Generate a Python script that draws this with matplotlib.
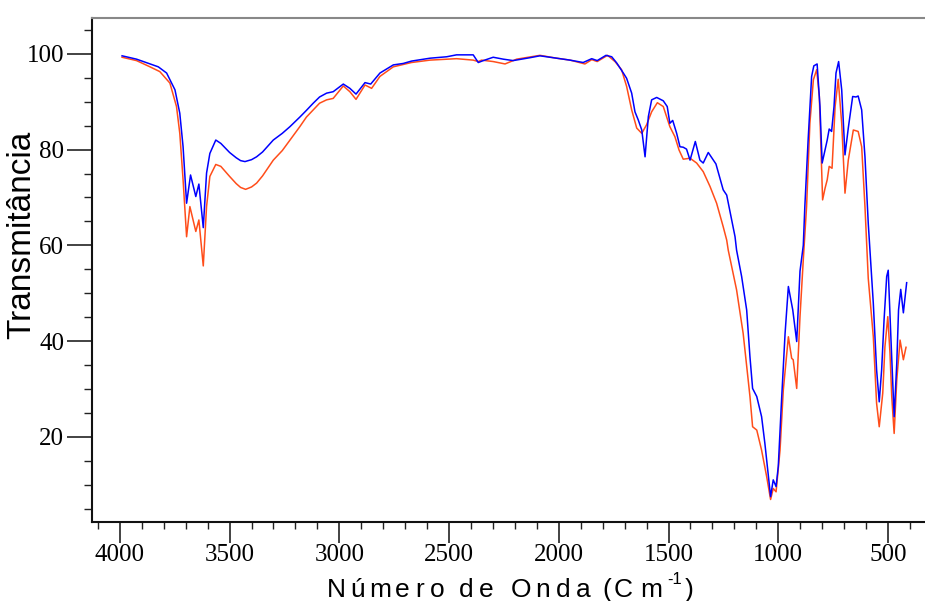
import numpy as np
import matplotlib
matplotlib.use("Agg")
import matplotlib.pyplot as plt
from matplotlib.ticker import MultipleLocator

# ---- data (wavenumber cm^-1, transmittance %) ----
blue_wn = [3990, 3924, 3863, 3825, 3787, 3749, 3727, 3712, 3696, 3678, 3654, 3640, 3620, 3605,
           3590, 3563, 3540, 3500, 3470, 3450, 3430, 3400, 3377, 3350, 3301, 3260, 3225, 3180,
           3150, 3119, 3090, 3058, 3028, 2982, 2952, 2924, 2883,
           2857, 2815, 2754, 2709, 2671, 2587, 2511, 2466, 2390, 2367, 2344, 2299, 2253, 2208,
           2132, 2086, 2010, 1949, 1889, 1850, 1825, 1785, 1759, 1736, 1706, 1691, 1668, 1653,
           1638, 1622, 1607, 1592, 1577, 1554, 1524, 1506, 1494, 1481, 1463, 1448, 1433, 1418,
           1402, 1378, 1357, 1342, 1319, 1284, 1251, 1235, 1197, 1190, 1167, 1144, 1129, 1117,
           1098, 1076, 1061, 1045, 1035, 1023, 1010, 1000, 985, 969, 954, 934, 916, 901, 886,
           879, 864, 848, 838, 823, 810, 800, 787, 777, 768, 757, 746, 737, 725, 711, 696, 681,
           661, 646, 636, 620, 605, 590, 574, 567, 552, 540, 529, 518, 506, 499, 487, 472, 460,
           452, 442, 430, 415]
blue_t = [99.6, 98.9, 97.9, 97.3, 96.0, 92.5, 87.6, 80.6, 68.8, 74.7, 70.2, 72.8, 63.7, 75.1,
          79.2, 82.0, 81.3, 79.4, 78.3, 77.7, 77.5, 77.9, 78.5, 79.5, 82.0, 83.4, 84.8, 86.8,
          88.2, 89.7, 91.0, 91.8, 92.1, 93.7, 92.8, 91.6, 94.0,
          93.7, 96.0, 97.7, 98.0, 98.5, 99.1, 99.4, 99.8, 99.8, 98.2, 98.6, 99.3, 98.9, 98.6,
          99.2, 99.6, 99.1, 98.7, 98.2, 99.0, 98.6, 99.7, 99.4, 98.1, 96.0, 94.9, 91.8, 87.9,
          86.2, 84.1, 78.5, 86.9, 90.4, 90.9, 90.2, 89.0, 85.5, 86.1, 83.4, 80.6, 80.5, 80.1,
          77.8, 81.7, 77.8, 77.2, 79.4, 77.0, 71.6, 70.5, 61.8, 59.0, 53.5, 46.5, 36.7, 30.1,
          28.4, 24.2, 18.6, 11.7, 7.5, 11.0, 9.6, 13.8, 27.7, 41.6, 51.4, 46.5, 39.9, 54.6, 60.0,
          68.1, 82.0, 95.3, 97.5, 97.9, 89.0, 77.2, 79.9, 82.0, 84.3, 83.8, 89.0, 96.0, 98.4,
          92.5, 78.9, 84.5, 91.1, 91.0, 91.2, 88.3, 78.5, 64.6, 52.8, 47.9, 34.0, 27.3, 34.0,
          44.4, 53.5, 54.8, 40.9, 24.2, 35.4, 46.5, 50.8, 45.9, 52.2]

orange_wn = [3990, 3924, 3863, 3818, 3772, 3742, 3727, 3712, 3696, 3681, 3654, 3640, 3620, 3605,
             3590, 3563, 3540, 3500, 3470, 3450, 3427, 3400, 3377, 3350, 3301, 3260, 3225, 3180,
             3150, 3119, 3090, 3058, 3028, 2982, 2952, 2924, 2883,
             2853, 2815, 2754, 2671, 2587, 2511, 2466, 2390, 2367, 2352, 2299, 2245, 2192, 2086,
             2010, 1949, 1881, 1850, 1825, 1778, 1744, 1714, 1691, 1668, 1645, 1622, 1600, 1577,
             1551, 1524, 1494, 1471, 1452, 1433, 1402, 1372, 1342, 1311, 1281, 1251, 1235, 1228,
             1190, 1160, 1129, 1117, 1098, 1076, 1053, 1035, 1023, 1010, 992, 977, 954, 939, 932,
             916, 901, 886, 871, 856, 840, 825, 813, 804, 798, 787, 777, 768, 755, 741, 727, 711,
             696, 681, 658, 636, 620, 605, 590, 567, 552, 540, 524, 514, 501, 491, 483, 472, 460,
             445, 430, 418]
orange_t = [99.3, 98.6, 97.3, 96.3, 93.9, 89.0, 83.4, 73.7, 61.8, 68.1, 62.9, 65.3, 55.7, 68.1,
            74.4, 76.9, 76.5, 74.4, 72.9, 72.1, 71.7, 72.2, 73.0, 74.5, 77.8, 79.8, 82.0, 84.8,
            86.8, 88.3, 89.7, 90.4, 90.7, 93.3, 92.1, 90.5, 93.5,
            92.8, 95.3, 97.3, 98.2, 98.7, 98.9, 99.0, 98.7, 98.4, 98.7, 98.4, 97.9, 98.9, 99.7,
            99.1, 98.7, 97.9, 98.8, 98.4, 99.7, 98.4, 96.7, 93.2, 88.3, 84.5, 83.4, 85.2, 87.9,
            89.8, 89.0, 84.8, 82.7, 79.9, 78.0, 78.2, 77.2, 75.4, 72.3, 68.8, 63.9, 61.1, 59.0,
            50.7, 41.6, 28.4, 22.1, 21.4, 17.2, 11.7, 6.9, 9.2, 8.5, 17.2, 29.8, 40.9, 36.4, 36.1,
            30.1, 45.1, 57.0, 68.1, 85.5, 94.6, 96.7, 91.1, 78.5, 69.5, 71.9, 73.7, 76.5, 76.1,
            89.0, 94.7, 85.5, 70.9, 77.8, 84.1, 83.8, 80.6, 68.1, 53.1, 40.9, 27.0, 22.1, 29.1,
            38.8, 45.1, 37.5, 28.4, 20.7, 31.9, 40.2, 36.1, 38.7]

x_ticks = [4000, 3500, 3000, 2500, 2000, 1500, 1000, 500]
y_ticks = [20, 40, 60, 80, 100]
x_label_chars = ["N", "ú", "m", "e", "r", "o", "d", "e", "O", "n", "d", "a", "(", "C", "m"]
y_label = "Transmitância"

W, H = 925, 601
fig = plt.figure(figsize=(W / 100, H / 100), dpi=100)
ax = fig.add_axes([92 / W, 1 - 521.5 / H, 832 / W, 503.5 / H])

ax.plot(orange_wn, orange_t, color='#ff4d1a', lw=1.1)
ax.plot(blue_wn, blue_t, color='#0000ff', lw=1.1)

ax.set_xlim(4127, 336)
ax.set_ylim(2.3, 107.5)

ax.set_xticks(x_ticks)
ax.set_yticks(y_ticks)
ax.xaxis.set_minor_locator(MultipleLocator(100))
ax.yaxis.set_minor_locator(MultipleLocator(5))

for lab in ax.get_xticklabels() + ax.get_yticklabels():
    lab.set_family('Liberation Serif')
    lab.set_fontsize(18)

ax.tick_params(axis='y', which='major', length=18, width=1.2, pad=2, color='#222222')
ax.tick_params(axis='y', which='minor', length=6, width=1.0, color='#222222')
ax.tick_params(axis='x', which='major', length=15, width=1.2, pad=1, color='#222222')
ax.tick_params(axis='x', which='minor', length=5, width=1.0, color='#222222')

ax.spines['right'].set_visible(False)
ax.spines['top'].set_color('#888888')
ax.spines['top'].set_linewidth(1.5)
ax.spines['left'].set_linewidth(1.5)
ax.spines['bottom'].set_linewidth(1.5)
ax.spines['left'].set_color('#111111')
ax.spines['bottom'].set_color('#111111')

fig.text(22 / W, 1 - 235 / H, y_label, rotation=90, ha='center', va='center',
         family='Liberation Sans', fontsize=24)

# letter-spaced x label "Número de Onda (Cm-1)", one character at a time
centers = [336, 358, 380, 402, 420, 437, 466, 486, 521, 543, 563, 583, 607, 623, 651.5]
base_y = 597.0
for ch, cx in zip(x_label_chars, centers):
    fig.text(cx / W, 1 - base_y / H, ch, ha='center', va='baseline',
             family='Liberation Sans', fontsize=19)
fig.text(675 / W, 1 - 584 / H, "-1", ha='center', va='baseline',
         family='Liberation Sans', fontsize=12)
fig.text(689 / W, 1 - base_y / H, ")", ha='center', va='baseline',
         family='Liberation Sans', fontsize=19)

fig.savefig('out.png', dpi=100)
